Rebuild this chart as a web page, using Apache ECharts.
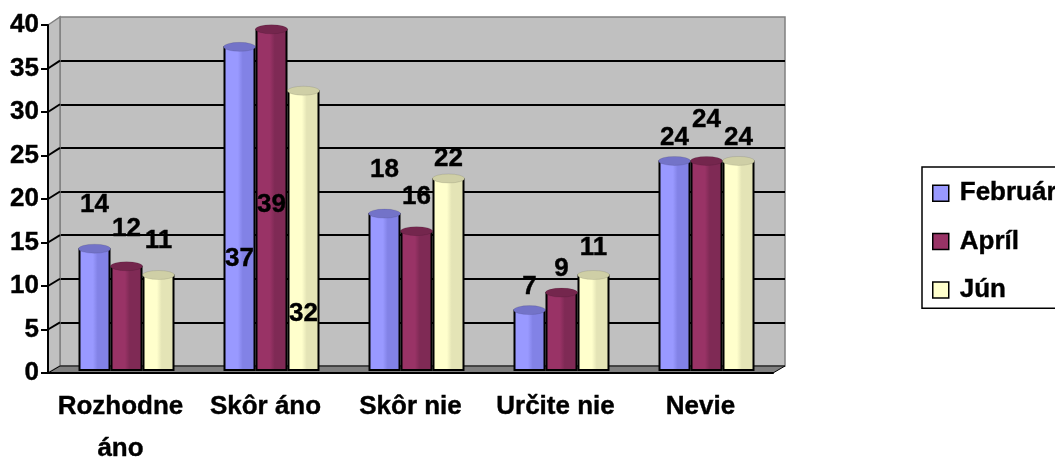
<!DOCTYPE html>
<html>
<head>
<meta charset="utf-8">
<script src="https://cdn.jsdelivr.net/npm/echarts@6/dist/echarts.min.js"></script>
<style>html, body { margin: 0; background: #fff; }</style>
</head>
<body>
<div id="chart" style="width:1055px;height:457px"></div>
<script>
// data
const categories = ['Rozhodne\náno', 'Skôr áno', 'Skôr nie', 'Určite nie', 'Nevie'];
const seriesNames = ['Február', 'Apríl', 'Jún'];
const februar = [14, 37, 18, 7, 24];
const april = [12, 39, 16, 9, 24];
const jun = [11, 32, 22, 11, 24];
const yMin = 0, yMax = 40, yStep = 5;

// Excel put the value labels in odd places, vertical nudge in px per label
const labelLift = [
  [-30, 226, -30, -10, -10],
  [-24, 189, -21, -10, -28],
  [-21, 237, -6, -14, -10]
];

const font = "'Liberation Sans', Arial, sans-serif";
const flat = ['#9999ff', '#993366', '#ffffcc'];
const shade = ['#8282e6', '#7f2a55', '#e4e4b6'];
const tops = ['#7373c8', '#74264d', '#cfcfa6'];

const FRONT = { left: 48, top: 25, width: 725, height: 348 };
const BACK = { left: 60, top: 17, width: 725, height: 349 };
const BARS = { left: 54, top: 20, width: 725, height: 351 };

const ellipse = 'path://M0 10A50 10 0 1 0 100 10A50 10 0 1 0 0 10Z';

function gradient(i) {
  return new echarts.graphic.LinearGradient(0, 0, 1, 0, [
    { offset: 0, color: flat[i] },
    { offset: 0.45, color: flat[i] },
    { offset: 0.6, color: shade[i] },
    { offset: 1, color: shade[i] }
  ]);
}

const textBase = {
  color: '#000',
  fontFamily: font,
  fontSize: 26,
  fontWeight: 'bold',
  textBorderColor: '#000',
  textBorderWidth: 0.4
};

const allValues = [februar, april, jun];
const series = [];
allValues.forEach(function (vals, i) {
  series.push({
    name: seriesNames[i],
    type: 'bar',
    xAxisIndex: 2,
    yAxisIndex: 2,
    barWidth: 32,
    barGap: '0%',
    z: 3,
    itemStyle: { color: gradient(i), borderColor: '#000', borderWidth: 2 },
    label: Object.assign({ show: true, position: 'top', distance: 0, lineHeight: 26 }, textBase),
    data: vals.map(function (v, j) {
      return { value: v, label: { offset: [0, labelLift[i][j]] } };
    })
  });
  series.push({
    name: seriesNames[i] + ' top',
    type: 'pictorialBar',
    xAxisIndex: 2,
    yAxisIndex: 2,
    barWidth: 32,
    barGap: '0%',
    symbol: ellipse,
    symbolSize: [32, 9],
    symbolPosition: 'end',
    symbolOffset: [0, '-50%'],
    z: 4,
    silent: true,
    itemStyle: { color: tops[i], borderColor: '#000', borderWidth: 2 },
    data: vals
  });
});

const blackLine = { color: '#000', width: 2 };
const gridBase = { outerBoundsMode: 'none', containLabel: false };

const option = {
  animation: false,
  grid: [
    Object.assign({ show: true, backgroundColor: '#c0c0c0', borderColor: '#808080', borderWidth: 1.5 }, gridBase, BACK),
    Object.assign({}, gridBase, FRONT),
    Object.assign({}, gridBase, BARS)
  ],
  xAxis: [
    { gridIndex: 0, type: 'category', data: categories, show: false },
    {
      gridIndex: 1, type: 'category', data: categories, z: 5,
      axisLine: { lineStyle: blackLine },
      axisTick: { length: 7, lineStyle: blackLine },
      axisLabel: Object.assign({ lineHeight: 42, margin: 13, interval: 0 }, textBase)
    },
    { gridIndex: 2, type: 'category', data: categories, show: false }
  ],
  yAxis: [
    {
      gridIndex: 0, type: 'value', min: yMin, max: yMax, interval: yStep,
      axisLine: { show: false }, axisTick: { show: false }, axisLabel: { show: false },
      splitLine: { show: true, showMinLine: false, showMaxLine: false, lineStyle: blackLine }
    },
    {
      gridIndex: 1, type: 'value', min: yMin, max: yMax, interval: yStep, z: 5,
      axisLine: { show: true, lineStyle: blackLine },
      axisTick: { show: true, length: 7, lineStyle: blackLine },
      axisLabel: Object.assign({ margin: 9 }, textBase),
      splitLine: { show: false }
    },
    { gridIndex: 2, type: 'value', min: yMin, max: yMax, interval: yStep, show: false }
  ],
  legend: {
    orient: 'vertical',
    left: 922,
    top: 167,
    padding: [13, 40, 5, 10],
    itemGap: 22,
    itemWidth: 16,
    itemHeight: 16,
    icon: 'rect',
    borderColor: '#000',
    borderWidth: 1.5,
    textStyle: Object.assign({ lineHeight: 26, padding: [0, 0, 0, 6] }, textBase),
    data: seriesNames.map(function (n, i) {
      return { name: n, itemStyle: { color: flat[i], borderColor: '#000', borderWidth: 1.5 } };
    })
  },
  series: series
};

const chart = echarts.init(document.getElementById('chart'));
chart.setOption(option);

// 3D side wall and floor, placed from the two value axes
const yFront = function (v) { return chart.convertToPixel({ yAxisIndex: 1 }, v); };
const yBack = function (v) { return chart.convertToPixel({ yAxisIndex: 0 }, v); };
const fr = FRONT.left, br = BACK.left;
const frR = FRONT.left + FRONT.width, brR = BACK.left + BACK.width;
const graphics = [
  {
    type: 'polygon', z: 1,
    shape: { points: [[fr, yFront(yMax)], [br, yBack(yMax)], [br, yBack(yMin)], [fr, yFront(yMin)]] },
    style: { fill: '#c0c0c0', stroke: '#808080', lineWidth: 1.5 }
  },
  {
    type: 'polygon', z: 1,
    shape: { points: [[fr, yFront(yMin)], [br, yBack(yMin)], [brR, yBack(yMin)], [frR, yFront(yMin)]] },
    style: { fill: '#808080', stroke: '#000', lineWidth: 1 }
  }
];
for (let v = yMin + yStep; v < yMax; v += yStep) {
  graphics.push({
    type: 'line', z: 1,
    shape: { x1: fr, y1: yFront(v), x2: br, y2: yBack(v) },
    style: { stroke: '#000', lineWidth: 2 }
  });
}
chart.setOption({ graphic: graphics });
</script>
</body>
</html>
